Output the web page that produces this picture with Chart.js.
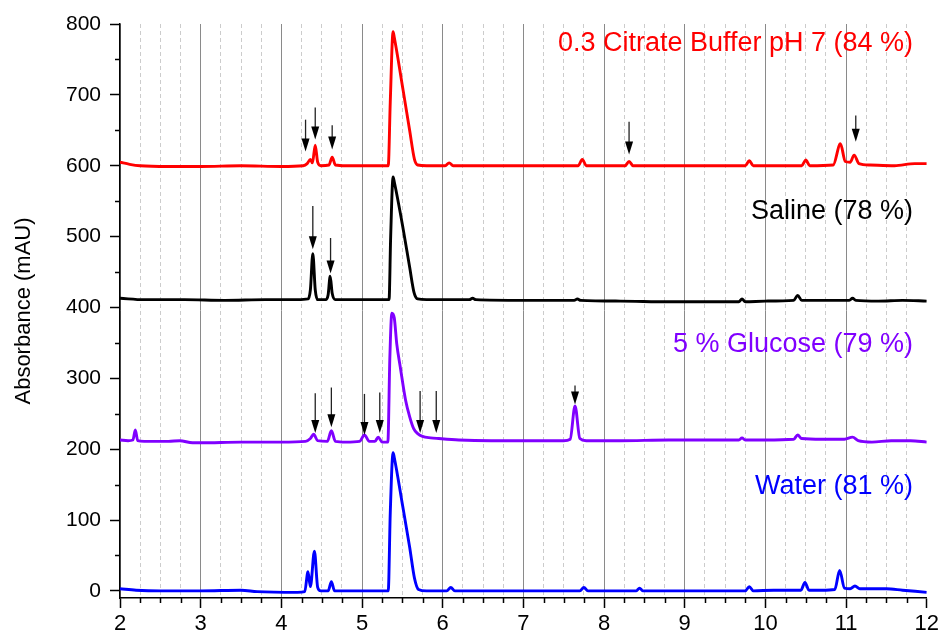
<!DOCTYPE html>
<html>
<head>
<meta charset="utf-8">
<script src="https://cdn.jsdelivr.net/npm/chart.js@4.4.1/dist/chart.umd.min.js"></script>
<style>
  body { margin: 0; background: #fff; }
  canvas { display: block; }
</style>
</head>
<body>
<canvas id="chrom" width="942" height="635"></canvas>
<script>
// retention time (min) / absorbance (mAU)
const tCitrate = [2.00, 2.12, 2.25, 2.6, 3.0, 3.5, 4.0, 4.27, 4.32, 4.36, 4.385, 4.42, 4.45, 4.49, 4.59, 4.63, 4.67, 4.8, 5.1, 5.325, 5.35, 5.385, 5.40, 5.51, 5.59, 5.65, 5.69, 5.8, 6.03, 6.08, 6.13, 6.5, 7.0, 7.68, 7.73, 7.78, 8.0, 8.26, 8.31, 8.36, 8.7, 9.2, 9.75, 9.80, 9.85, 10.2, 10.45, 10.50, 10.55, 10.84, 10.93, 10.99, 11.05, 11.10, 11.16, 11.3, 11.6, 11.85, 12.0];
const aCitrate = [605, 602, 600, 599, 599, 600, 599, 600, 603, 609, 604, 629, 605, 600, 601, 612, 601, 600, 600, 600, 690, 789, 781, 706, 650, 609, 601, 600, 600, 604, 600, 600, 600, 600, 609, 600, 600, 600, 606, 600, 600, 600, 600, 607, 600, 600, 600, 608, 600, 601, 631, 606, 605, 615, 603, 601, 600, 603, 603];

const tSaline = [2.0, 2.3, 2.8, 3.3, 3.8, 4.2, 4.33, 4.36, 4.39, 4.42, 4.45, 4.55, 4.58, 4.605, 4.63, 4.67, 4.8, 5.1, 5.335, 5.355, 5.385, 5.40, 5.505, 5.59, 5.645, 5.69, 5.8, 6.0, 6.33, 6.37, 6.41, 7.0, 7.63, 7.67, 7.71, 8.2, 8.8, 9.3, 9.67, 9.71, 9.75, 10.0, 10.35, 10.40, 10.45, 10.8, 11.04, 11.08, 11.12, 11.4, 11.7, 12.0];
const aSaline = [413, 411, 411, 410, 411, 411, 412, 425, 476, 425, 411, 411, 418, 444, 420, 411, 411, 411, 411, 500, 584, 577, 514, 457, 421, 412, 411, 411, 411, 413, 411, 410, 410, 412, 410, 409, 408, 408, 408, 412, 408, 409, 410, 417, 410, 410, 410, 413, 410, 409, 410, 409];

const tGlucose = [2.0, 2.1, 2.16, 2.19, 2.22, 2.3, 2.6, 2.74, 2.9, 3.0, 3.5, 4.0, 4.3, 4.36, 4.40, 4.45, 4.57, 4.62, 4.67, 4.8, 4.97, 5.03, 5.09, 5.16, 5.20, 5.25, 5.32, 5.345, 5.37, 5.40, 5.43, 5.474, 5.54, 5.59, 5.64, 5.69, 5.75, 5.85, 5.95, 6.2, 6.6, 7.0, 7.5, 7.58, 7.64, 7.70, 7.78, 8.2, 8.8, 9.4, 9.67, 9.71, 9.75, 10.0, 10.35, 10.40, 10.45, 10.7, 10.98, 11.08, 11.15, 11.32, 11.56, 11.8, 12.0];
const aGlucose = [213, 212, 213, 227, 212, 211, 211, 212, 209, 209, 210, 210, 211, 215, 221, 212, 211, 226, 211, 210, 211, 220, 211, 211, 217, 210, 210, 330, 392, 385, 349, 316, 269, 246, 229, 222, 218, 216, 215, 213, 212, 212, 212, 214, 261, 215, 212, 212, 213, 213, 213, 216, 213, 213, 214, 220, 215, 214, 214, 217, 212, 210, 212, 212, 210];

const tWater = [2.0, 2.2, 2.5, 3.0, 3.5, 3.7, 4.2, 4.29, 4.33, 4.36, 4.41, 4.45, 4.49, 4.58, 4.62, 4.66, 4.8, 5.1, 5.325, 5.35, 5.385, 5.40, 5.505, 5.59, 5.65, 5.70, 5.8, 6.05, 6.10, 6.15, 6.5, 7.0, 7.70, 7.75, 7.80, 8.0, 8.40, 8.44, 8.48, 8.8, 9.5, 9.75, 9.80, 9.85, 10.1, 10.44, 10.49, 10.54, 10.7, 10.86, 10.92, 10.98, 11.05, 11.11, 11.17, 11.3, 11.5, 11.7, 12.0];
const aWater = [3, 1, 0, 0, 1, -1, -2, -1, 27, 6, 56, 5, 0, 0, 13, 0, 0, 0, 0, 110, 195, 188, 119, 62, 18, 2, 0, 0, 5, 0, 0, 0, 0, 5, 0, 0, 0, 4, 0, 0, 0, 0, 6, 0, 1, 1, 12, 1, 1, 2, 29, 4, 3, 7, 3, 3, 3, 1, -2];

// series labels and where they sit (value units)
const seriesNames = ["0.3 Citrate Buffer pH 7 (84 %)", "Saline (78 %)", "5 % Glucose (79 %)", "Water (81 %)"];
const seriesColors = ["#ff0000", "#000000", "#8000ff", "#0000ff"];
const labelY = [773, 536, 347, 147];
const labelX = 11.83;

// marked peaks: time, arrow top, arrow tip (mAU)
const arrowX   = [4.30, 4.42, 4.63, 8.31, 11.12, 4.39, 4.61, 4.42, 4.62, 5.03, 5.22, 5.72, 5.92, 7.64];
const arrowTop = [665, 682, 657, 662, 671, 543, 498, 279, 287, 278, 280, 282, 282, 290];
const arrowTip = [620, 637, 623, 616, 634, 482, 448, 223, 231, 220, 223, 223, 223, 263];

// axis ticks
const xMajor = [2, 3, 4, 5, 6, 7, 8, 9, 10, 11, 12];
const yMajor = [0, 100, 200, 300, 400, 500, 600, 700, 800];
const xMinorStep = 0.25;
const yMinorStep = 50;

const FONT = "'Liberation Sans', Arial, sans-serif";

function toPoints(t, a) {
  return t.map((v, i) => ({ x: v, y: a[i] }));
}

const isMajorX = (v) => xMajor.includes(v);
const isMajorY = (v) => yMajor.includes(v);

const overlay = {
  id: "overlay",
  afterDatasetsDraw(chart) {
    const { ctx, chartArea, scales: { x, y } } = chart;
    ctx.save();
    // arrows
    arrowX.forEach((v, i) => {
      const px = x.getPixelForValue(v);
      const top = y.getPixelForValue(arrowTop[i]);
      const tip = y.getPixelForValue(arrowTip[i]);
      ctx.strokeStyle = "#222";
      ctx.lineWidth = 1.3;
      ctx.beginPath();
      ctx.moveTo(px, top);
      ctx.lineTo(px, tip - 10);
      ctx.stroke();
      ctx.fillStyle = "#000";
      ctx.beginPath();
      ctx.moveTo(px - 4, tip - 13);
      ctx.lineTo(px + 4, tip - 13);
      ctx.lineTo(px, tip);
      ctx.closePath();
      ctx.fill();
    });
    // series labels
    ctx.font = "27px " + FONT;
    ctx.textAlign = "right";
    ctx.textBaseline = "middle";
    seriesNames.forEach((name, i) => {
      ctx.fillStyle = seriesColors[i];
      ctx.fillText(name, x.getPixelForValue(labelX), y.getPixelForValue(labelY[i]));
    });
    // minor tick marks
    ctx.strokeStyle = "#000";
    ctx.lineWidth = 1.5;
    ctx.beginPath();
    for (let v = xMajor[0]; v <= xMajor[xMajor.length - 1] + 1e-9; v += xMinorStep) {
      if (isMajorX(v)) continue;
      const px = Math.round(x.getPixelForValue(v)) + 0.5;
      ctx.moveTo(px, chartArea.bottom);
      ctx.lineTo(px, chartArea.bottom + 5);
    }
    for (let v = yMajor[0]; v <= yMajor[yMajor.length - 1]; v += yMinorStep) {
      if (isMajorY(v)) continue;
      const py = Math.round(y.getPixelForValue(v)) + 0.5;
      ctx.moveTo(chartArea.left, py);
      ctx.lineTo(chartArea.left - 5, py);
    }
    ctx.stroke();
    ctx.restore();
  }
};

const ctx = document.getElementById("chrom").getContext("2d");

new Chart(ctx, {
  type: "line",
  data: {
    datasets: [
      { label: seriesNames[0], data: toPoints(tCitrate, aCitrate), borderColor: seriesColors[0] },
      { label: seriesNames[1], data: toPoints(tSaline, aSaline), borderColor: seriesColors[1] },
      { label: seriesNames[2], data: toPoints(tGlucose, aGlucose), borderColor: seriesColors[2] },
      { label: seriesNames[3], data: toPoints(tWater, aWater), borderColor: seriesColors[3] }
    ]
  },
  options: {
    responsive: false,
    animation: false,
    layout: { padding: { top: 24, right: 14, left: 0, bottom: 0 } },
    elements: {
      line: { borderWidth: 2.9, cubicInterpolationMode: "monotone", fill: false },
      point: { radius: 0 }
    },
    plugins: {
      legend: { display: false },
      tooltip: { enabled: false }
    },
    scales: {
      x: {
        type: "linear",
        min: 2,
        max: 12,
        afterFit: (s) => { s.height = 37; },
        afterBuildTicks: (s) => {
          const ticks = [];
          for (let v = xMajor[0]; v <= xMajor[xMajor.length - 1] + 1e-9; v += xMinorStep) ticks.push({ value: v });
          s.ticks = ticks;
        },
        ticks: {
          autoSkip: false,
          maxRotation: 0,
          padding: 3,
          color: "#000",
          font: { family: FONT, size: 22 },
          callback: (v) => (isMajorX(v) ? String(v) : "")
        },
        grid: {
          color: (c) => {
            if (!c.tick) return "#8a8a8a";
            if (c.tick.value === 12) return "rgba(0,0,0,0)";
            return isMajorX(c.tick.value) ? "#8a8a8a" : "#cccccc";
          },
          lineWidth: 1,
          tickLength: 10,
          tickWidth: 1.5,
          tickColor: (c) => (c.tick && isMajorX(c.tick.value) ? "#000" : "rgba(0,0,0,0)")
        },
        border: {
          color: "#000",
          width: 1.5,
          dash: (c) => (c.tick && !isMajorX(c.tick.value) ? [4, 3] : [])
        }
      },
      y: {
        min: -10,
        max: 800,
        afterFit: (s) => { s.width = 120; },
        afterBuildTicks: (s) => {
          s.ticks = yMajor.map((v) => ({ value: v }));
        },
        title: {
          display: true,
          text: "Absorbance (mAU)",
          color: "#000",
          font: { family: FONT, size: 22 },
          padding: { top: 11, bottom: 0 }
        },
        ticks: {
          padding: 9,
          color: "#000",
          font: { family: FONT, size: 21 }
        },
        grid: {
          drawOnChartArea: false,
          tickLength: 10,
          tickWidth: 1.5,
          tickColor: "#000"
        },
        border: { color: "#000", width: 1.5 }
      }
    }
  },
  plugins: [overlay]
});
</script>
</body>
</html>
